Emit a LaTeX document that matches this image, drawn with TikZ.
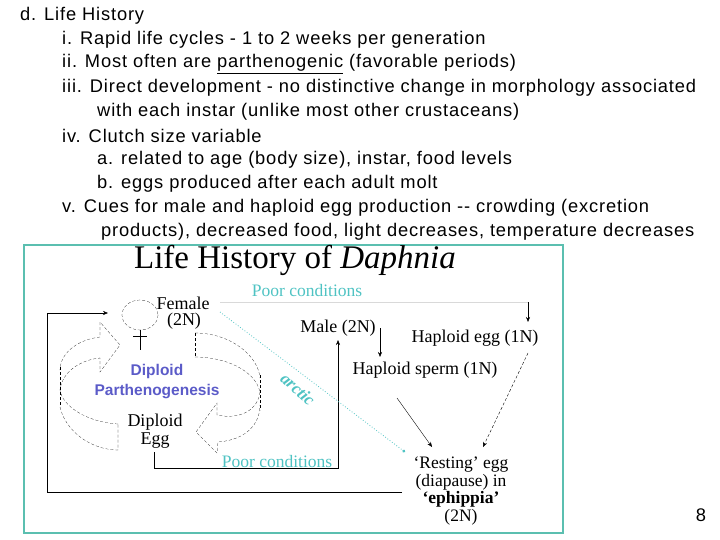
\documentclass[tikz,border=0pt]{standalone}
\usepackage{fontspec}
\setmainfont{Liberation Serif}
\newfontfamily\arial[LetterSpace=4.6]{Liberation Sans}
\newfontfamily\arialb{Liberation Sans}
\usetikzlibrary{arrows.meta}
\definecolor{teal1}{HTML}{4FC3C3}
\definecolor{frame1}{HTML}{5BBFB0}
\definecolor{purp}{HTML}{5B5BC8}
\begin{document}
\begin{tikzpicture}[x=1pt,y=-1pt,
  line/.style={anchor=west,font=\arial\fontsize{18.3}{20}\selectfont,inner sep=0},
  lab/.style={font=\fontsize{18}{19}\selectfont,inner sep=0},
  poor/.style={font=\fontsize{17.5}{19}\selectfont,inner sep=0,text=teal1},
  ar/.style={-{Stealth[length=5pt,width=4pt]},thin},
  dsh/.style={densely dashed,very thin}]
\useasboundingbox (0,0) rectangle (720,540);
% top text
\node[line] (t1) at (20,16) {d. Life History};
\node[line] (t2) at (62,40) {i. Rapid life cycles - 1 to 2 weeks per generation};
\node[line] (t3) at (62,64) {ii. Most often are \underline{parthenogenic} (favorable periods)};
\node[line] (t4) at (62,88) {iii. Direct development - no distinctive change in morphology associated};
\node[line] (t5) at (97,112) {with each instar (unlike most other crustaceans)};
\node[line] (t6) at (62,136) {iv. Clutch size variable};
\node[line] (t7) at (97,160) {a. related to age (body size), instar, food levels};
\node[line] (t8) at (97,184) {b. eggs produced after each adult molt};
\node[line] (t9) at (62,208) {v. Cues for male and haploid egg production -- crowding (excretion};
\node[line] (t10) at (101,232) {products), decreased food, light decreases, temperature decreases};
\node[line,anchor=center] (num) at (701,515) {8};
% frame
\draw[frame1,line width=1.5pt] (24,245) rectangle (563,533);
\node[inner sep=0,font=\fontsize{33}{35}\selectfont] (title) at (295,260) {Life History of \textit{Daphnia}};
% female symbol
\draw[dsh] (140,315) ellipse (18 and 15);
\draw (140,330) -- (140,350) (133,336) -- (147,336);
\node[lab] (fem) at (183,303) {Female};
\node[lab] (fem2) at (184,321) {(2N)};
\node[poor] (pc1) at (307,291) {Poor conditions};
\node[poor] (pc2) at (277,462) {Poor conditions};
\node[lab] (male) at (338,328) {Male (2N)};
\node[lab] (hegg) at (475,338) {Haploid egg (1N)};
\node[lab] (hsp) at (425,370) {Haploid sperm (1N)};
\node[lab,align=center,font=\fontsize{17.5}{17.5}\selectfont] (rest) at (461,491) {`Resting' egg\\(diapause) in\\\textbf{`ephippia'}\\(2N)};
\node[lab,align=center,font=\fontsize{18}{18}\selectfont] (degg) at (155,431) {Diploid\\Egg};
\node[inner sep=0,font=\arialb\bfseries\fontsize{15.5}{20}\selectfont,text=purp,align=center] (dp) at (157,382) {Diploid\\Parthenogenesis};
% arrows
\coordinate (q1) at (220,302);
\coordinate (q2) at (528,302);
\draw[black!15] (q1) -- (q2);
\draw[ar] (q2) -- (528,322);
\draw[ar] (380,328) -- (380,357);
\draw[ar] (397,398) -- (432,447);
\draw[ar,densely dashed] (528,353) -- (483,447);
\draw[ar] (154,452) |- (338,468) -- (338,340);
\draw[ar] (402,492) -- (47,492) -- (47,313) -- (108,313);
% arctic
\draw[teal1,dotted,thick,-{Circle[length=3pt]}] (220,312) -- (405,452);
\node[text=teal1,rotate=-42,font=\bfseries\itshape\fontsize{17}{18}\selectfont,inner sep=0] (arc) at (298,389) {arctic};
% left block arrow
\draw[dsh] (118,424) .. controls (85,422) and (62,405) .. (60,390)
  .. controls (62,372) and (80,360) .. (100,358) -- (100,372) -- (120,345) -- (100,322) -- (100,337)
  .. controls (75,340) and (60,355) .. (60,370);
\draw[dsh] (60,367) -- (60,407);
\draw[dsh] (60,407) .. controls (65,430) and (90,450) .. (118,450) -- (118,424);
% right block arrow
\draw[dsh] (195,333) .. controls (230,333) and (258,355) .. (260,378);
\draw[dsh] (195,357) .. controls (225,357) and (255,370) .. (260,392);
\draw[dsh] (195,333) -- (195,357);
\draw[dsh] (260,375) -- (260,410);
\draw[dsh] (260,392) .. controls (258,410) and (240,420) .. (217,415) -- (217,403) -- (196,432) -- (217,453) -- (218,442)
  .. controls (245,440) and (260,425) .. (260,405);
\end{tikzpicture}
\end{document}
